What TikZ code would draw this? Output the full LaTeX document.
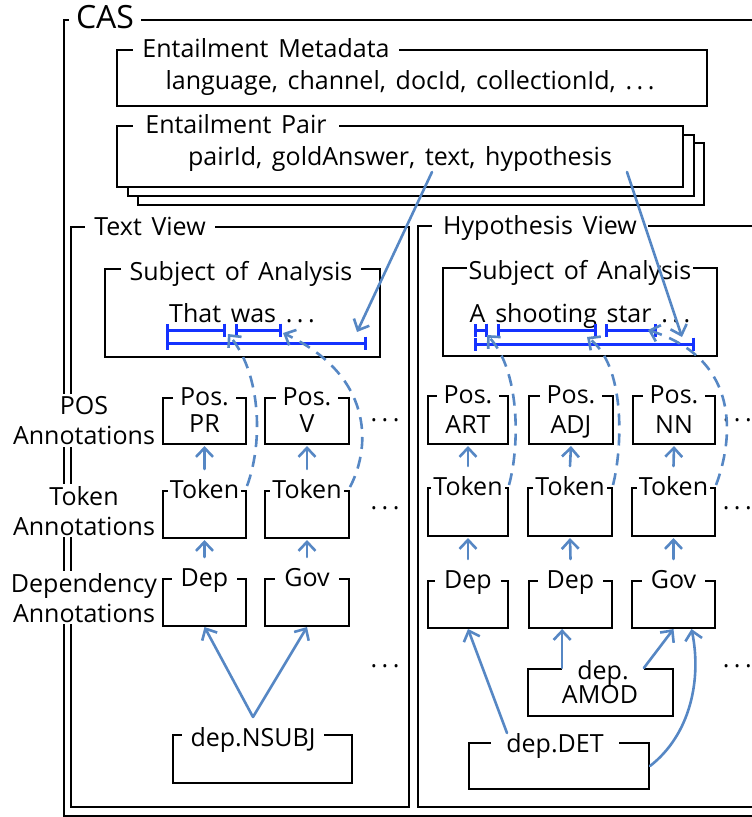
\documentclass[tikz,border=0pt]{standalone}
\usepackage{fontspec}
\setmainfont{Open Sans}[WordSpace=1.5]
\usetikzlibrary{arrows.meta}
\definecolor{linkblue}{RGB}{86,135,196}
\definecolor{spanblue}{RGB}{20,50,255}
\newcommand\fs{\fontsize{25}{30}\selectfont}
\newcommand\fsbig{\fontsize{32}{36}\selectfont}
\newcommand\ddd{.\kern4.5pt.\kern4.5pt.}
\tikzset{
  frame/.style={line width=2pt},
  box/.style={draw, line width=2pt, fill=white, inner sep=0pt, anchor=north west},
  tag/.style={fill=white, inner xsep=9pt, inner ysep=0pt, anchor=base, yshift=-8pt},
  word/.style={inner sep=0pt, anchor=base},
  side/.style={fill=white, inner xsep=1pt, inner ysep=2pt, align=center, anchor=north},
  link/.style={draw=linkblue, line width=2.6pt, line cap=round,
    -{Straight Barb[length=9pt,width=17pt,line width=2.6pt]}},
  dlink/.style={link, line cap=butt, dash pattern=on 12pt off 8pt},
  span/.style={draw=spanblue, line width=3pt,
    {Bar[width=13pt,line width=3pt]}-{Bar[width=13pt,line width=3pt]}},
}
\begin{document}
\begin{tikzpicture}[x=1pt, y=-1pt, every node/.style={font=\fs}]
\useasboundingbox (0,0) rectangle (752,817);
\clip (0,0) rectangle (752,817);

% outer CAS frame and the two views
\draw[frame] (64,20) rectangle (790,816);
\draw[frame] (71,227) rectangle (409,807);
\draw[frame] (418,226) rectangle (790,807);

% document level annotations
\node[box, minimum width=590pt, minimum height=56pt] (meta) at (116,49) {};
\node[box, minimum width=566pt, minimum height=62pt] (pair3) at (137,142) {};
\node[box, minimum width=566pt, minimum height=61pt] (pair2) at (127,134) {};
\node[box, minimum width=566pt, minimum height=61pt] (pair) at (116,125) {};

% subjects of analysis
\node[box, minimum width=275pt, minimum height=88pt] (soaT) at (104,268) {};
\node[box, minimum width=274pt, minimum height=88pt] (soaH) at (442,267) {};

% text view annotations
\node[box, minimum width=83pt, minimum height=46pt] (posPR) at (162,397) {};
\node[box, minimum width=84pt, minimum height=46pt] (posV) at (264,397) {};
\node[box, minimum width=83pt, minimum height=47pt] (tokPR) at (162,490) {};
\node[box, minimum width=84pt, minimum height=47pt] (tokV) at (264,490) {};
\node[box, minimum width=83pt, minimum height=47pt] (depT) at (162,578) {};
\node[box, minimum width=84pt, minimum height=47pt] (govT) at (264,578) {};
\node[box, minimum width=179pt, minimum height=48pt] (nsubj) at (172,734) {};

% hypothesis view annotations
\node[box, minimum width=80pt, minimum height=48pt] (posART) at (427,395) {};
\node[box, minimum width=84pt, minimum height=48pt] (posADJ) at (528,395) {};
\node[box, minimum width=82pt, minimum height=48pt] (posNN) at (632,395) {};
\node[box, minimum width=80pt, minimum height=48pt] (tokART) at (427,487) {};
\node[box, minimum width=84pt, minimum height=48pt] (tokADJ) at (527,487) {};
\node[box, minimum width=83pt, minimum height=48pt] (tokNN) at (631,487) {};
\node[box, minimum width=80pt, minimum height=47pt] (depH1) at (427,580) {};
\node[box, minimum width=83pt, minimum height=47pt] (depH2) at (528,580) {};
\node[box, minimum width=83pt, minimum height=47pt] (govH) at (631,580) {};
\node[box, minimum width=145pt, minimum height=47pt] (amod) at (527,668) {};
\node[box, minimum width=180pt, minimum height=46pt] (det) at (468,742) {};

% titles sitting on the top borders
\node[tag, font=\fsbig, inner xsep=7pt] (casT) at (105,20) {CAS};
\node[tag] (metaT) at (266,49) {Entailment Metadata};
\node[tag, inner xsep=12pt] (pairT) at (236,125) {Entailment Pair};
\node[tag] (textT) at (150,227) {Text View};
\node[tag, inner xsep=11pt] (hypT) at (540,226) {Hypothesis View};
\node[tag, yshift=-4pt] (soaTT) at (241,268) {Subject of Analysis};
\node[tag, yshift=-4pt, inner xsep=2pt] (soaHT) at (580,267) {Subject of Analysis};
\node[tag, inner xsep=7pt] at (posPR.north) {Pos.};
\node[tag, inner xsep=7pt] at (posV.north) {Pos.};
\node[tag, inner xsep=2pt] at (tokPR.north) {Token};
\node[tag, inner xsep=2pt] at (tokV.north) {Token};
\node[tag] at (depT.north) {Dep};
\node[tag] at (govT.north) {Gov};
\node[tag, inner xsep=7pt] at (posART.north) {Pos.};
\node[tag, inner xsep=7pt] at (posADJ.north) {Pos.};
\node[tag, inner xsep=7pt] at (posNN.north) {Pos.};
\node[tag, inner xsep=2pt] at (tokART.north) {Token};
\node[tag, inner xsep=2pt] at (tokADJ.north) {Token};
\node[tag, inner xsep=2pt] at (tokNN.north) {Token};
\node[tag] at (depH1.north) {Dep};
\node[tag] at (depH2.north) {Dep};
\node[tag] at (govH.north) {Gov};
\node[tag, yshift=-4pt] (nsubjT) at (253,734) {dep.NSUBJ};
\node[tag, yshift=-3pt, inner xsep=15pt] (amodT) at (603,668) {dep.};
\node[tag, yshift=-2pt, inner xsep=15pt] (detT) at (555,742) {dep.DET};

% contents
\node[word] at (410,89) {language, channel, docId, collectionId, \ddd};
\node[word] at (400,165) {pairId, goldAnswer, text, hypothesis};
\node[word] at (242,322) {That was \ddd};
\node[word] at (580,322) {A shooting star \ddd};
\node[word] at ([yshift=-35pt]posPR.north) {PR};
\node[word] at ([yshift=-35pt]posV.north) {V};
\node[word] at ([yshift=-38pt]posART.north) {ART};
\node[word] at ([yshift=-38pt]posADJ.north) {ADJ};
\node[word] at ([yshift=-38pt]posNN.north) {NN};
\node[word] at (600,703) {AMOD};

% ellipses for further annotations
\foreach \y/\n in {421/a,509/b,667/c}{
  \node[word] (moreT\n) at (385,\y) {\ddd};
  \node[word, anchor=base east] (moreH\n) at (752,\y) {\ddd};
}

% row captions on the left
\node[side] (capPOS) at (84,394) {POS\\Annotations};
\node[side] (capTok) at (84,484) {Token\\Annotations};
\node[side] (capDep) at (84,571) {Dependency\\Annotations};

% spans over the subject of analysis
\coordinate (sT1a) at (166,330); \coordinate (sT1b) at (226,330);
\coordinate (sT2a) at (235,330); \coordinate (sT2b) at (282,330);
\coordinate (sT3a) at (166,343); \coordinate (sT3b) at (367,343);
\draw[span] (sT1a) -- (sT1b);
\draw[span] (sT2a) -- (sT2b);
\draw[span] (sT3a) -- (sT3b);
\coordinate (sH1a) at (474,330); \coordinate (sH1b) at (488,330);
\coordinate (sH2a) at (497,330); \coordinate (sH2b) at (597,330);
\coordinate (sH3a) at (605,330); \coordinate (sH3b) at (657,330);
\coordinate (sH4a) at (474,344); \coordinate (sH4b) at (695,344);
\draw[span] (sH1a) -- (sH1b);
\draw[span] (sH2a) -- (sH2b);
\draw[span] (sH3a) -- (sH3b);
\draw[span] (sH4a) -- (sH4b);

% entailment pair features pointing to their views
\coordinate (fText) at (432,172);
\coordinate (fHyp) at (627,172);
\coordinate (tipText) at (357,332);
\coordinate (tipHyp) at (682,337);
\draw[link] (fText) -- (tipText);
\draw[link] (fHyp) -- (tipHyp);

% tokens anchored to spans
\coordinate (tkT1) at (228,334);
\coordinate (tkT2) at (283,333);
\coordinate (tkH1) at (487,335);
\coordinate (tkH2) at (587,337);
\coordinate (tkH3) at (648,330);
\draw[dlink] ([yshift=4pt]tokPR.north east) .. controls (264,440) and (260,372) .. (tkT1);
\draw[dlink] ([yshift=3pt]tokV.north east) .. controls (372,445) and (372,375) .. (tkT2);
\draw[dlink] ([yshift=2pt]tokART.north east) .. controls (520,445) and (520,370) .. (tkH1);
\draw[dlink] ([yshift=2pt]tokADJ.north east) .. controls (623,445) and (625,365) .. (tkH2);
\draw[dlink] ([yshift=2pt]tokNN.north east) .. controls (733,440) and (742,360) .. (tkH3);

% layer arrows: token -> POS, dependency -> token
\foreach \a/\b in {tokPR/posPR, tokV/posV, tokART/posART, tokADJ/posADJ, tokNN/posNN,
                   depT/tokPR, govT/tokV, depH1/tokART, depH2/tokADJ, govH/tokNN}{
  \draw[link] ([yshift=21pt]\a.north) -- ([yshift=-1pt]\b.south);
}

% dependency relations
\coordinate (nsubjA) at (253,717);
\draw[link] (nsubjA) -- (depT.south);
\draw[link] (nsubjA) -- (govT.south);
\draw[link] (amodT.west |- amod.north) -- (amodT.west |- depH2.south);
\draw[link] (amodT.east |- amod.north) -- (govH.south);
\coordinate (detA) at (507,733);
\draw[link] (detA) -- (depH1.south);
\draw[link] (det.east) .. controls (690,735) and (702,680) .. ([xshift=18pt]govH.south);
\end{tikzpicture}
\end{document}
